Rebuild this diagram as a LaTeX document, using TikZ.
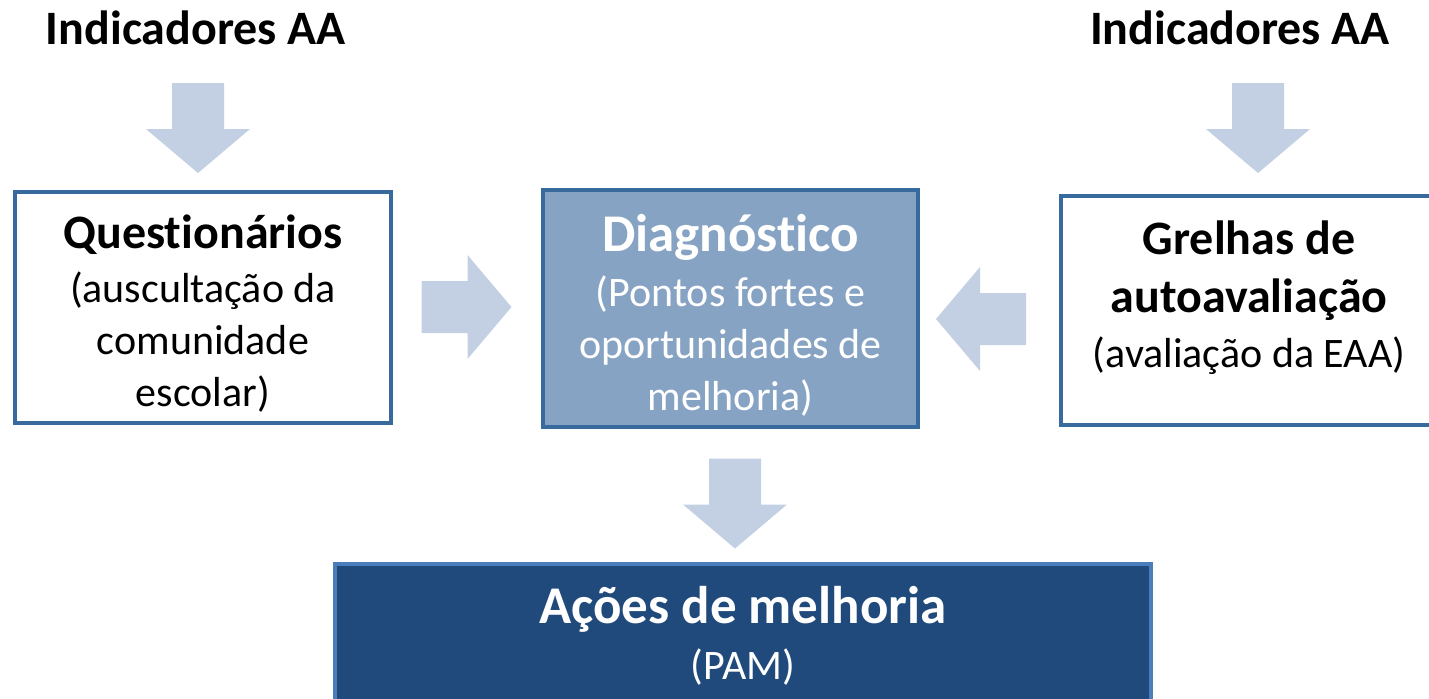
\documentclass[tikz,border=0pt]{standalone}
\usepackage{fontspec}
\setmainfont{Carlito}[Ligatures=NoCommon]
\usepackage{xcolor}
\usetikzlibrary{calc,positioning}

\definecolor{arrowblue}{HTML}{C3CFE2}
\definecolor{frameblue}{HTML}{386A9E}
\definecolor{diagblue}{HTML}{87A3C4}
\definecolor{navyblue}{HTML}{214A7C}
\definecolor{lightframe}{HTML}{4A7EBB}

\newcommand{\titfont}{\bfseries\fontsize{24}{29}\selectfont}
\newcommand{\bigtitfont}{\bfseries\fontsize{26.5}{31}\selectfont}
\newcommand{\bodyfont}{\fontsize{21}{26}\selectfont}

\tikzset{
  box/.style={
    rectangle,
    draw=frameblue,
    line width=2pt,
    align=center,
    inner sep=0pt,
    font=\bodyfont
  },
  blockarrow/.pic={
    \fill[arrowblue] (-45,-26) -- (1,-26) -- (1,-52) -- (45,0)
      -- (1,52) -- (1,26) -- (-45,26) -- cycle;
  }
}

\begin{document}
\begin{tikzpicture}[x=0.5pt,y=-0.5pt]
    \useasboundingbox (0,0) rectangle (1429,698);
    \clip (0,0) rectangle (1429,698);

    \node[font=\titfont, inner sep=0pt] (indL) at (196,28) {Indicadores AA};
    \node[font=\titfont, inner sep=0pt] (indR) at (1240,28) {Indicadores AA};

    \node[
      box,
      minimum width=188pt,
      minimum height=115.5pt
    ] (quest) at (203,307.5)
      {{\titfont\rule{0pt}{23pt}Questionários}\\[1pt](auscultação da\\comunidade\\escolar)};

    \node[
      box,
      fill=diagblue,
      text=white,
      minimum width=187.5pt,
      minimum height=118.5pt
    ] (diag) at (730.5,308.5)
      {{\bigtitfont\rule{0pt}{25pt}Diagnóstico}\\[1.5pt](Pontos fortes e\\oportunidades de\\melhoria)};

    \node[
      box,
      minimum width=188pt,
      minimum height=114.5pt
    ] (grelhas) at (1249,310.5)
      {{\titfont Grelhas de}\\[3pt]{\titfont autoavaliação}\\[1.5pt](avaliação da EAA)\\[-10pt]\mbox{}};

    \node[
      box,
      draw=lightframe,
      fill=navyblue,
      text=white,
      anchor=north,
      minimum width=408pt,
      inner ysep=11pt
    ] (acoes) at (743,562)
      {{\bigtitfont Ações de melhoria}\\[2pt](PAM)\\[20pt]\mbox{}};

    \pic[rotate=-90] at (198,128) {blockarrow};
    \pic[rotate=-90] at (1258,128) {blockarrow};
    \pic at (466.5,307) {blockarrow};
    \pic[rotate=180] at (981,319) {blockarrow};
    \pic[rotate=-90] at (735,503.5) {blockarrow};
\end{tikzpicture}
\end{document}
